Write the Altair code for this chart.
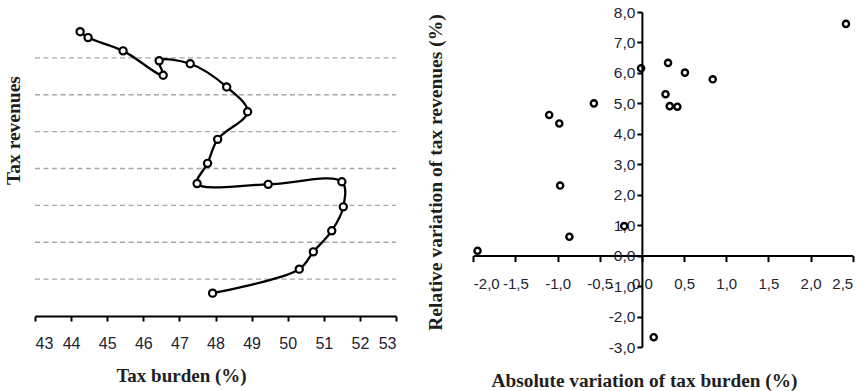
import altair as alt
import pandas as pd

# ---- Left panel: tax burden (%) vs tax revenues (index, unlabeled axis) ----
tax_burden = [47.92, 50.32, 50.71, 51.22, 51.54, 51.50, 49.46, 47.49, 47.78,
              48.06, 48.89, 48.31, 47.30, 46.44, 46.55, 45.44, 44.47, 44.25]
tax_revenue = [0.62, 1.27, 1.74, 2.31, 2.96, 3.64, 3.57, 3.59, 4.14,
               4.79, 5.54, 6.21, 6.84, 6.92, 6.53, 7.19, 7.55, 7.71]
grid_levels = [1, 2, 3, 4, 5, 6, 7]
burden_ticks = [43, 44, 45, 46, 47, 48, 49, 50, 51, 52, 53]

# ---- Right panel: absolute variation of tax burden vs relative variation of revenues ----
abs_var_burden = [2.42, -0.01, 0.31, 0.51, 0.84, 0.28, 0.33, 0.42,
                  -0.57, -1.10, -0.98, -0.97, -0.86, -1.95, -0.21, 0.14]
rel_var_revenue = [7.61, 6.15, 6.33, 6.01, 5.79, 5.30, 4.91, 4.89,
                   5.00, 4.62, 4.34, 2.30, 0.62, 0.16, 0.97, -2.68]
var_x_ticks = [-2.0, -1.5, -1.0, -0.5, 0.0, 0.5, 1.0, 1.5, 2.0, 2.5]
var_y_ticks = [-3.0, -2.0, -1.0, 0.0, 1.0, 2.0, 3.0, 4.0, 5.0, 6.0, 7.0, 8.0]

left_df = pd.DataFrame({"idx": list(range(len(tax_burden))),
                        "burden": tax_burden, "revenue": tax_revenue})
grid_df = pd.DataFrame({"g": grid_levels})
right_df = pd.DataFrame({"dx": abs_var_burden, "dy": rel_var_revenue})

TITLE_FONT = "Liberation Serif"
LABEL_FONT = "Liberation Sans"
TXT = "#1e1e1e"
LBL = "#222233"
comma_expr = "(datum.value < 0 ? '-' : '') + replace(format(abs(datum.value), '.1f'), '.', ',')"

# Left scales
lx_scale = alt.Scale(domain=[43, 53], range=[35, 396], nice=False, zero=False)
ly_scale = alt.Scale(domain=[0, 8], range=[316, 21], nice=False, zero=False)

lx_axis = alt.Axis(values=burden_ticks, orient="bottom", offset=-75, grid=False,
                   domainColor="black", domainWidth=2, tickColor="black", tickWidth=2,
                   tickSize=5, labelPadding=14, labelFontSize=16, labelFont=LABEL_FONT,
                   labelColor=LBL, labelOverlap=False, labelBound=False,
                   title="Tax burden (%)", titleFont=TITLE_FONT,
                   titleFontSize=19, titleFontWeight="bold", titleColor=TXT,
                   titleX=181, titleY=59, titleAlign="center", titleBaseline="middle")
ly_axis = alt.Axis(orient="left", domain=False, ticks=False, labels=False, grid=False,
                   title="Tax revenues", titleFont=TITLE_FONT, titleFontSize=19.5,
                   titleFontWeight="bold", titleColor=TXT, titleAngle=270,
                   titleX=13, titleY=130, titleAlign="center", titleBaseline="middle")

grid = alt.Chart(grid_df).mark_rule(color="#a6a6a6", strokeDash=[5, 3.5], strokeWidth=1.3).encode(
    y=alt.Y("g:Q", scale=ly_scale, axis=ly_axis),
    x=alt.datum(43, scale=lx_scale, axis=lx_axis),
    x2=alt.datum(53),
)
line = alt.Chart(left_df).mark_line(color="black", strokeWidth=2.3, interpolate="catmull-rom").encode(
    x=alt.X("burden:Q", scale=lx_scale, axis=lx_axis),
    y=alt.Y("revenue:Q", scale=ly_scale, axis=ly_axis),
    order=alt.Order("idx:Q"),
)
pts = alt.Chart(left_df).mark_point(shape="circle", filled=True, fill="white", stroke="black",
                                    strokeWidth=2.2, size=52, opacity=1).encode(
    x=alt.X("burden:Q", scale=lx_scale, axis=lx_axis),
    y=alt.Y("revenue:Q", scale=ly_scale, axis=ly_axis),
)
left = alt.layer(grid, line, pts)

# Right scales
rx_scale = alt.Scale(domain=[-2, 2.5], range=[473.3, 852.7], nice=False, zero=False)
ry_scale = alt.Scale(domain=[-3, 8], range=[347, 12], nice=False, zero=False)

rx_axis = alt.Axis(values=var_x_ticks, labelExpr=comma_expr, orient="bottom", offset=-135.4,
                   grid=False, domainColor="black", domainWidth=2, tickColor="black",
                   tickWidth=2, tickSize=6, labelPadding=15, labelFontSize=15,
                   labelFont=LABEL_FONT, labelColor=LBL, labelOverlap=False, labelBound=False,
                   title="Absolute variation of tax burden (%)", titleFont=TITLE_FONT,
                   titleFontSize=19.3, titleFontWeight="bold", titleColor=TXT,
                   titleX=644, titleY=124.4, titleAlign="center", titleBaseline="middle")
ry_axis = alt.Axis(values=var_y_ticks, labelExpr=comma_expr, orient="left", offset=-641.9,
                   grid=False, domainColor="black", domainWidth=2, tickColor="black",
                   tickWidth=2, tickSize=5, labelPadding=2, labelFontSize=15.5,
                   labelFont=LABEL_FONT, labelColor=LBL, labelOverlap=False, labelBound=False,
                   title="Relative variation of tax revenues (%)", titleFont=TITLE_FONT,
                   titleFontSize=19.5, titleFontWeight="bold", titleColor=TXT, titleAngle=270,
                   titleX=-206.9, titleY=172, titleAlign="center", titleBaseline="middle")

right = alt.Chart(right_df).mark_point(shape="circle", filled=False, stroke="black",
                                       strokeWidth=2.4, size=38, opacity=1).encode(
    x=alt.X("dx:Q", scale=rx_scale, axis=rx_axis),
    y=alt.Y("dy:Q", scale=ry_scale, axis=ry_axis),
)

chart = alt.layer(left, right).resolve_scale(x="independent", y="independent").properties(
    width=868, height=391, autosize=alt.AutoSizeParams(type="none"), padding=0,
    background="white",
).configure_view(stroke=None)

chart.save("out.html", embed_options={"renderer": "svg", "actions": False})
